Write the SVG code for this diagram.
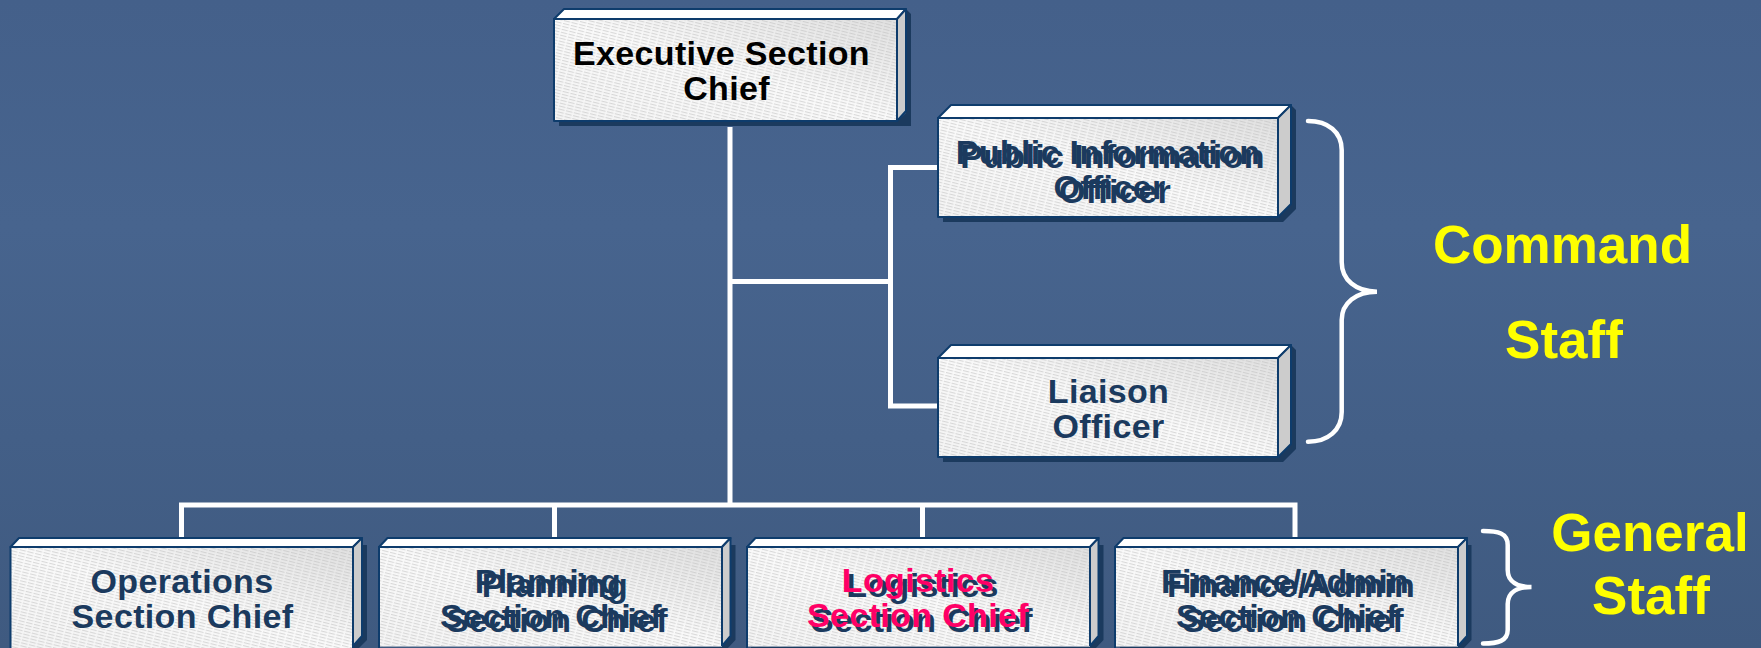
<svg xmlns="http://www.w3.org/2000/svg" width="1761" height="648" viewBox="0 0 1761 648">
<style>
.front{fill:url(#grad)}
.hatch{fill:url(#hatch)}
.edge{stroke:#0e3c6c;stroke-width:2;stroke-linejoin:round}
.top{fill:#fff}
.side{fill:#cccccc}
.shadow{fill:#1b3a5e}
.conn{fill:none;stroke:#fff;stroke-width:5}
.brace{fill:none;stroke:#fff;stroke-width:4.5;stroke-linecap:round}
text{font-family:"Liberation Sans",Arial,sans-serif;font-weight:700;text-anchor:middle}
.t,.k,.p{font-size:34px;letter-spacing:0.35px}
.t{fill:#1b3a5e}
.k{fill:#000}
.p{fill:#ff0066}
.y{font-size:53px;fill:#ffff00}
</style>
<defs>
<linearGradient id="bg" x1="0" y1="0" x2="0" y2="1">
<stop offset="0" stop-color="#44608a"/>
<stop offset="0.35" stop-color="#47648e"/>
<stop offset="1" stop-color="#3f5a80"/>
</linearGradient>
<linearGradient id="grad" x1="0" y1="1" x2="1" y2="0">
<stop offset="0" stop-color="#f4f4f4"/>
<stop offset="0.5" stop-color="#fafafa"/>
<stop offset="1" stop-color="#e0e0e0"/>
</linearGradient>
<pattern id="hatch" width="8" height="3" patternUnits="userSpaceOnUse" patternTransform="rotate(14)">
<rect x="0" y="0" width="6.5" height="1.1" fill="#bdbdbd" fill-opacity="0.55"/>
</pattern>
</defs>
<rect width="1761" height="648" fill="url(#bg)"/>
<g id="connectors">
<path class="conn" d="M730 127V505M730 281.5H890.5M938 167.5H890.5V406H938"/>
<path class="conn" d="M181.5 537V505H1295V537M554.5 505V537M922.5 505V537"/>
</g>
<g id="braces">
<path class="brace" d="M1308 121C1328 121 1341.7 132 1341.7 150V262C1341.7 280 1356 291.7 1377 291.7C1356 291.7 1341.7 303 1341.7 320V412C1341.7 430 1328 441.7 1308 441.7"/>
<path class="brace" d="M1483 531C1498 531 1507.7 533 1507.7 545V570C1507.7 582 1518 587 1531.5 587C1518 587 1507.7 592 1507.7 604V630C1507.7 641 1498 643.5 1483 643.5"/>
</g>
<g id="exec">
<polygon class="shadow" points="559,126 897,126 911,126 911,14 906,9 906,113 897,121 559,121"/>
<polygon class="top edge" points="554,19 564,9 906,9 897,19"/>
<polygon class="side edge" points="897,19 906,9 906,111 897,121"/>
<rect class="front" x="554" y="19" width="343" height="102"/><rect class="hatch" x="554" y="19" width="343" height="102"/>
<rect x="554" y="19" width="343" height="102" fill="none" class="edge"/>
<text class="k" x="721.5" y="65">Executive Section</text>
<text class="k" x="726.5" y="100">Chief</text>
</g>
<g id="public">
<polygon class="shadow" points="943,222 1283,222 1296,209 1296,110 1291,105 1291,204 1278,217 943,217"/>
<polygon class="top edge" points="938,118 951,105 1291,105 1278,118"/>
<polygon class="side edge" points="1278,118 1291,105 1291,204 1278,217"/>
<rect class="front" x="938" y="118" width="340" height="99"/><rect class="hatch" x="938" y="118" width="340" height="99"/>
<rect x="938" y="118" width="340" height="99" fill="none" class="edge"/>
<text class="t" x="1108" y="163.500">Public Information</text>
<text class="t" x="1112.5" y="167.500">Public Information</text>
<text class="t" x="1109.5" y="198.500">Officer</text>
<text class="t" x="1115" y="202.500">Officer</text>
</g>
<g id="liaison">
<polygon class="shadow" points="943,462 1283,462 1296,449 1296,350 1291,345 1291,444 1278,457 943,457"/>
<polygon class="top edge" points="938,358 951,345 1291,345 1278,358"/>
<polygon class="side edge" points="1278,358 1291,345 1291,444 1278,457"/>
<rect class="front" x="938" y="358" width="340" height="99"/><rect class="hatch" x="938" y="358" width="340" height="99"/>
<rect x="938" y="358" width="340" height="99" fill="none" class="edge"/>
<text class="t" x="1108.5" y="403">Liaison</text>
<text class="t" x="1108.5" y="438">Officer</text>
</g>
<g id="operations">
<polygon class="shadow" points="357,545 367,545 367,640 358,649 353,649 353,545"/>
<polygon class="top edge" points="10.5,547 19,538 362,538 353,547"/>
<polygon class="side edge" points="353,547 362,538 362,636 353,646"/>
<rect class="front" x="10.5" y="547" width="342.500" height="102"/><rect class="hatch" x="10.500" y="547" width="342.500" height="102"/>
<path class="edge" fill="none" d="M10.5 650V547H353V650"/>
<text class="t" x="182" y="593">Operations</text>
<text class="t" x="182.500" y="628">Section Chief</text>
</g>
<g id="planning">
<polygon class="shadow" points="726,545 735.500,545 735.500,640 727,649 560,649 560,646.800 722,646.800"/>
<polygon class="top edge" points="379,547 387.500,538 730.500,538 722,547"/>
<polygon class="side edge" points="722,547 730.500,538 730.500,636 722,646"/>
<rect class="front" x="379" y="547" width="343" height="99.500"/><rect class="hatch" x="379" y="547" width="343" height="99.500"/>
<path class="edge" fill="none" d="M379 650V547H722V646"/>
<text class="t" x="548" y="593">Planning</text>
<text class="t" x="555" y="597">Planning</text>
<text class="t" x="551" y="628">Section Chief</text>
<text class="t" x="557" y="632">Section Chief</text>
</g>
<g id="logistics">
<polygon class="shadow" points="1094,545 1103.500,545 1103.500,640 1095,649 751,649 751,646.800 1090,646.800"/>
<polygon class="top edge" points="747,547 755.500,538 1098.500,538 1090,547"/>
<polygon class="side edge" points="1090,547 1098.500,538 1098.500,636 1090,646"/>
<rect class="front" x="747" y="547" width="343" height="99.500"/><rect class="hatch" x="747" y="547" width="343" height="99.500"/>
<path class="edge" fill="none" d="M747 650V547H1090V646"/>
<text class="t" x="922.500" y="597">Logistics</text>
<text class="t" x="922" y="632">Section Chief</text>
<text class="p" x="918" y="592">Logistics</text>
<text class="p" x="918" y="627">Section Chief</text>
</g>
<g id="finance">
<polygon class="shadow" points="1462,545 1471.500,545 1471.500,640 1463,649 1120,649 1120,646.800 1458,646.800"/>
<polygon class="top edge" points="1115,547 1123.500,538 1467,538 1458,547"/>
<polygon class="side edge" points="1458,547 1467,538 1467,636 1458,646"/>
<rect class="front" x="1115" y="547" width="343" height="99.500"/><rect class="hatch" x="1115" y="547" width="343" height="99.500"/>
<path class="edge" fill="none" d="M1115 650V547H1458V646"/>
<text class="t" x="1285" y="593">Finance/Admin</text>
<text class="t" x="1291" y="597">Finance/Admin</text>
<text class="t" x="1287" y="628">Section Chief</text>
<text class="t" x="1293" y="632">Section Chief</text>
</g>
<g id="labels">
<text class="y" x="1562.5" y="263">Command</text>
<text class="y" x="1564" y="358">Staff</text>
<text class="y" x="1650" y="551">General</text>
<text class="y" x="1651" y="614">Staff</text>
</g>
</svg>
